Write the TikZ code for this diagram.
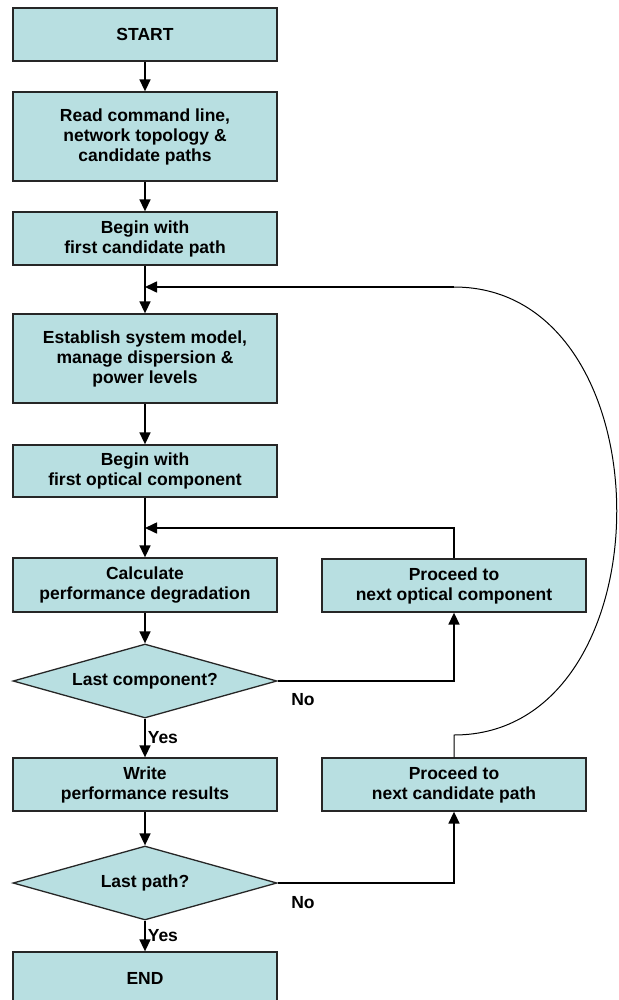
\documentclass[tikz,border=0pt]{standalone}
\usepackage{fontspec}
\setmainfont{Liberation Sans}
\usetikzlibrary{shapes.geometric,arrows.meta}
\definecolor{boxfill}{RGB}{184,223,225}
\begin{document}
\begin{tikzpicture}[x=1pt,y=-1pt,
  every node/.style={font=\fontsize{17.5}{20}\selectfont\bfseries},
  box/.style={draw=black!85, line width=1.3pt, fill=boxfill, minimum width=264pt, inner sep=0pt, align=center},
  dec/.style={diamond, draw=black!85, line width=1.3pt, fill=boxfill, minimum width=264pt, minimum height=74pt, inner sep=0pt, aspect=3.57},
  conn/.style={line width=1.6pt, -{Triangle[length=12pt,width=11pt]}},
  plain/.style={line width=1.6pt},
  lbl/.style={inner sep=0pt}]
\useasboundingbox (0,0) rectangle (618,1000);
\node[box, minimum height=53pt] (start) at (145,34.5) {START};
\node[box, minimum height=89pt] (read) at (145,136.5) {Read command line,\\network topology \&\\candidate paths};
\node[box, minimum height=53pt] (bpath) at (145,238.5) {Begin with\\first candidate path};
\node[box, minimum height=89pt] (est) at (145,358.5) {Establish system model,\\manage dispersion \&\\power levels};
\node[box, minimum height=52pt] (bopt) at (145,471) {Begin with\\first optical component};
\node[box, minimum height=54pt] (calc) at (145,585) {Calculate\\performance degradation};
\node[dec] (d1) at (145,681) {Last component?};
\node[box, minimum height=53pt] (write) at (145,784.5) {Write\\performance results};
\node[dec] (d2) at (145,883) {Last path?};
\node[box, minimum height=53pt] (end) at (145,978.5) {END};
\node[box, minimum height=53pt] (nopt) at (454,585.5) {Proceed to\\next optical component};
\node[box, minimum height=53pt] (npath) at (454,784.5) {Proceed to\\next candidate path};
\node[lbl] (no1) at (303,700) {No};
\node[lbl] (no2) at (303,903) {No};
\coordinate (j1) at (145,287);
\coordinate (j2) at (145,528);
\coordinate (c1) at (454,681);
\coordinate (c2) at (454,883);
\coordinate (r2) at (454,528);
\coordinate (r1) at (454,287);
\coordinate (cb) at (454,735);
\draw[conn] (start) -- (read);
\draw[conn] (read) -- (bpath);
\draw[plain] (bpath) -- (j1);
\draw[conn] (j1) -- (est);
\draw[conn] (est) -- (bopt);
\draw[plain] (bopt) -- (j2);
\draw[conn] (j2) -- (calc);
\draw[conn] (calc) -- (d1);
\draw[conn] (d1) -- node[right, lbl, xshift=2pt] (yes1) {Yes} (write);
\draw[conn] (d1.east) -- (c1) -- (nopt.south);
\draw[conn] (nopt.north) -- (r2) -- (j2);
\draw[conn] (write) -- (d2);
\draw[conn] (d2) -- node[right, lbl, xshift=2pt] (yes2) {Yes} (end);
\draw[conn] (d2.east) -- (c2) -- (npath.south);
\draw[line width=1pt] (npath.north) -- (cb) .. controls (671,735) and (671,287) .. (r1);
\draw[conn] (r1) -- (j1);
\end{tikzpicture}
\end{document}
